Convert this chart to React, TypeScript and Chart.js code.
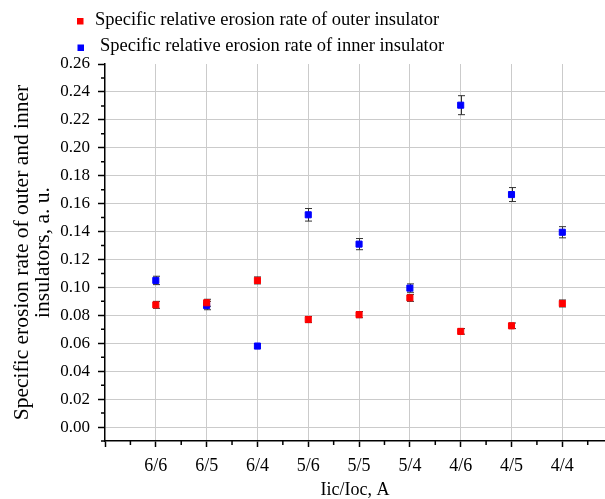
import React, { useEffect, useRef } from 'react';
import { Chart, registerables } from 'chart.js';

Chart.register(...registerables);

const categories = ['6/6', '6/5', '6/4', '5/6', '5/5', '5/4', '4/6', '4/5', '4/4'];
const outerValues = [0.0875, 0.089, 0.105, 0.077, 0.0805, 0.0925, 0.0685, 0.0725, 0.0885];
const outerErrors = [0.0025, 0.0025, 0.0025, 0.0022, 0.0022, 0.0025, 0.002, 0.002, 0.0025];
const innerValues = [0.105, 0.087, 0.058, 0.152, 0.131, 0.0995, 0.2305, 0.1665, 0.1395];
const innerErrors = [0.003, 0.003, 0.0018, 0.0045, 0.004, 0.003, 0.0068, 0.005, 0.004];
const yTickValues = [0, 0.02, 0.04, 0.06, 0.08, 0.1, 0.12, 0.14, 0.16, 0.18, 0.2, 0.22, 0.24, 0.26];
const yMinorValues = [-0.01, 0.01, 0.03, 0.05, 0.07, 0.09, 0.11, 0.13, 0.15, 0.17, 0.19, 0.21, 0.23, 0.25];
const xTickValues = [0, 1, 2, 3, 4, 5, 6, 7, 8, 9];
const xMinorValues = [0.5, 1.5, 2.5, 3.5, 4.5, 5.5, 6.5, 7.5, 8.5, 9.5];
const legendLabels = [
  'Specific relative erosion rate of outer insulator',
  'Specific relative erosion rate of inner insulator',
];
const seriesColors = ['#ff0000', '#0000ff'];
const yTitle = ['Specific erosion rate of outer and inner', 'insulators, a. u.'];
const xTitle = 'Iic/Ioc, A';

const SERIF = '"Liberation Serif", "Times New Roman", serif';

const errorBarPlugin = {
  id: 'errorBars',
  beforeDatasetsDraw(chart: any) {
    const { ctx, scales } = chart;
    const x = scales.x;
    const y = scales.y;
    ctx.save();
    ctx.strokeStyle = '#333333';
    ctx.lineWidth = 1;
    chart.data.datasets.forEach((ds: any) => {
      ds.data.forEach((p: any, i: number) => {
        const e = ds.errors[i];
        const px = Math.round(x.getPixelForValue(p.x)) + 0.5;
        const top = y.getPixelForValue(p.y + e);
        const bot = y.getPixelForValue(p.y - e);
        ctx.beginPath();
        ctx.moveTo(px, top);
        ctx.lineTo(px, bot);
        ctx.moveTo(px - 3.5, top);
        ctx.lineTo(px + 3.5, top);
        ctx.moveTo(px - 3.5, bot);
        ctx.lineTo(px + 3.5, bot);
        ctx.stroke();
      });
    });
    ctx.restore();
  },
};

const minorTickPlugin = {
  id: 'minorTicks',
  afterDraw(chart: any) {
    const { ctx, scales, chartArea } = chart;
    ctx.save();
    ctx.strokeStyle = '#000';
    ctx.lineWidth = 1.5;
    ctx.beginPath();
    yMinorValues.forEach((v) => {
      const py = scales.y.getPixelForValue(v);
      ctx.moveTo(chartArea.left, py);
      ctx.lineTo(chartArea.left - 4, py);
    });
    xMinorValues.forEach((v) => {
      const px = scales.x.getPixelForValue(v);
      ctx.moveTo(px, chartArea.bottom);
      ctx.lineTo(px, chartArea.bottom + 4);
    });
    ctx.stroke();
    ctx.restore();
  },
};

const legendPlugin = {
  id: 'customLegend',
  afterDraw(chart: any) {
    const { ctx } = chart;
    ctx.save();
    ctx.font = `18.5px ${SERIF}`;
    ctx.textBaseline = 'middle';
    ctx.fillStyle = '#000';
    const rows = [
      { mx: 80, my: 21, tx: 95, ty: 20 },
      { mx: 80.5, my: 47.5, tx: 100, ty: 46 },
    ];
    legendLabels.forEach((label, i) => {
      const r = rows[i];
      ctx.fillStyle = seriesColors[i];
      ctx.fillRect(r.mx - 3, r.my - 3, 6.5, 6.5);
      ctx.fillStyle = '#000';
      ctx.fillText(label, r.tx, r.ty);
    });
    ctx.restore();
  },
};

export default function App() {
  const ref = useRef<HTMLCanvasElement | null>(null);

  useEffect(() => {
    document.body.style.margin = '0';
    document.body.style.overflow = 'hidden';
    const canvas = ref.current;
    if (!canvas) return;

    const makeData = (vals: number[]) => vals.map((v, i) => ({ x: i + 1, y: v }));

    const chart = new Chart(canvas, {
      type: 'scatter',
      data: {
        datasets: [
          {
            label: legendLabels[0],
            data: makeData(outerValues),
            errors: outerErrors,
            backgroundColor: seriesColors[0],
            borderColor: seriesColors[0],
            pointStyle: 'rect',
            pointRadius: 4.3,
            pointBorderWidth: 1,
          } as any,
          {
            label: legendLabels[1],
            data: makeData(innerValues),
            errors: innerErrors,
            backgroundColor: seriesColors[1],
            borderColor: seriesColors[1],
            pointStyle: 'rect',
            pointRadius: 4.3,
            pointBorderWidth: 1,
          } as any,
        ],
      },
      options: {
        responsive: false,
        animation: false,
        events: [],
        layout: { autoPadding: false, padding: { top: 64, left: 0, right: 0, bottom: 0 } },
        plugins: {
          legend: { display: false },
          tooltip: { enabled: false },
        },
        scales: {
          x: {
            type: 'linear',
            min: 0,
            max: 9.84,
            afterBuildTicks: (scale: any) => {
              scale.ticks = xTickValues.map((v) => ({ value: v }));
            },
            afterFit: (scale: any) => {
              scale.height = 58;
              scale.paddingLeft = 0;
              scale.paddingRight = 0;
            },
            ticks: {
              autoSkip: false,
              maxRotation: 0,
              padding: 8,
              color: '#000',
              font: { family: SERIF, size: 18 },
              callback: (v: any) => (v >= 1 ? categories[Number(v) - 1] ?? '' : ''),
            },
            grid: {
              color: (c: any) => (c.tick && c.tick.value === 0 ? 'rgba(0,0,0,0)' : '#cbcbcb'),
              lineWidth: 1,
              drawTicks: true,
              tickLength: 6,
              tickColor: '#000',
              tickWidth: 1.5,
            },
            border: { color: '#000', width: 1.5 },
            title: {
              display: true,
              text: xTitle,
              color: '#000',
              font: { family: SERIF, size: 18, lineHeight: 1.0 },
              padding: { top: 0, bottom: 0 },
            },
          },
          y: {
            type: 'linear',
            min: -0.01,
            max: 0.26,
            afterBuildTicks: (scale: any) => {
              scale.ticks = yTickValues.map((v) => ({ value: v }));
            },
            afterFit: (scale: any) => {
              scale.width = 105;
              scale.paddingTop = 0;
              scale.paddingBottom = 0;
            },
            ticks: {
              autoSkip: false,
              padding: 8,
              color: '#000',
              font: { family: SERIF, size: 17 },
              callback: (v: any) => Number(v).toFixed(2),
            },
            grid: {
              color: (c: any) => (c.tick && Math.abs(c.tick.value - 0.26) < 1e-9 ? 'rgba(0,0,0,0)' : '#cbcbcb'),
              lineWidth: 1,
              drawTicks: true,
              tickLength: 7,
              tickColor: '#000',
              tickWidth: 1.5,
            },
            border: { color: '#000', width: 1.5 },
            title: {
              display: true,
              text: yTitle,
              color: '#000',
              font: { family: SERIF, size: 21.5, lineHeight: 0.98 },
              padding: { top: 11.5, bottom: 0 },
            },
          },
        },
      } as any,
      plugins: [errorBarPlugin, minorTickPlugin, legendPlugin],
    });

    return () => chart.destroy();
  }, []);

  return (
    <canvas
      ref={ref}
      width={605}
      height={499}
      style={{ display: 'block', width: '605px', height: '499px' }}
    />
  );
}
